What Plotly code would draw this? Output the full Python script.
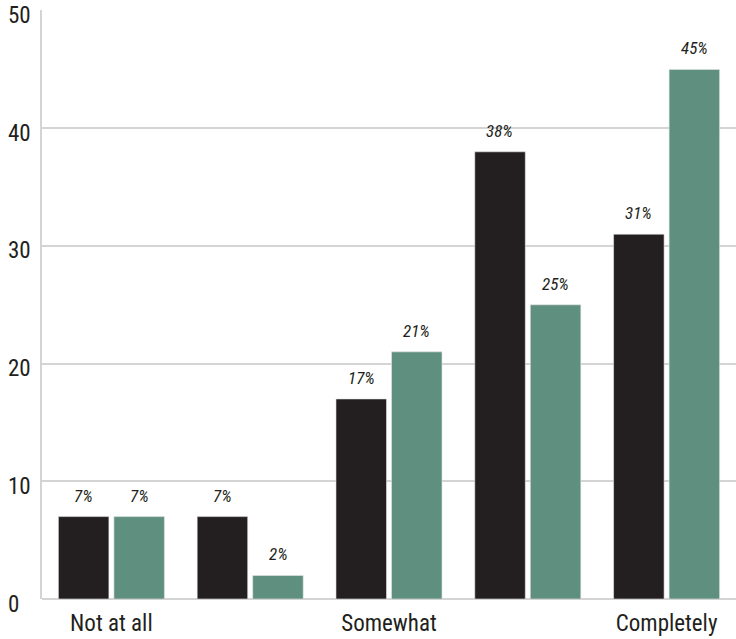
import plotly.graph_objects as go

# Response categories (only every other level is labelled on the axis)
categories = ["Not at all", "level 2", "Somewhat", "level 4", "Completely"]
tick_labels = ["Not at all", "", "Somewhat", "", "Completely"]

# Percent of respondents in each group
group_a = [7, 7, 17, 38, 31]
group_b = [7, 2, 21, 25, 45]

y_ticks = [0, 10, 20, 30, 40, 50]

DARK = "#231f20"
GREEN = "#5f8f7f"
GRID = "#d4d4d4"
FONT = "Liberation Sans Narrow, Roboto Condensed, Open Sans, sans-serif"

fig = go.Figure()
for name, vals, color in [("A", group_a, DARK), ("B", group_b, GREEN)]:
    fig.add_trace(go.Bar(
        x=categories, y=vals, name=name,
        marker=dict(color=color, line=dict(color="#e6e6e6", width=0.6)),
        cliponaxis=False,
    ))

# Value labels above each bar; the two bars of a group sit half a slot
# left and right of the category centre
half_slot = 27.8
for vals, dx in [(group_a, -half_slot), (group_b, half_slot)]:
    for cat, v in zip(categories, vals):
        fig.add_annotation(
            x=cat, y=v, text=f"{v}%", showarrow=False,
            xanchor="center", yanchor="bottom", xshift=dx, yshift=9,
            font=dict(family=FONT, size=17, color=DARK, style="italic"),
        )

# Y tick labels, left aligned against the edge of the figure and sitting
# just below their grid lines
for t in y_ticks:
    fig.add_annotation(
        x=0, xref="paper", y=t, yref="y", text=str(t), showarrow=False,
        xanchor="left", yanchor="middle", xshift=-36, yshift=-5,
        font=dict(family=FONT, size=23, color=DARK),
    )

fig.update_layout(
    width=736, height=639,
    margin=dict(l=42, r=0, t=10, b=40),
    paper_bgcolor="white", plot_bgcolor="white",
    barmode="group", bargap=0.2, bargroupgap=0.09,
    showlegend=False,
    font=dict(family=FONT, size=23, color=DARK),
    xaxis=dict(
        tickmode="array", tickvals=categories, ticktext=tick_labels,
        showgrid=False, showline=False, ticks="",
        tickfont=dict(size=23), ticklabelstandoff=8,
    ),
    yaxis=dict(
        range=[0, 50.05], tickvals=y_ticks, showticklabels=False,
        showgrid=True, gridcolor=GRID, gridwidth=2,
        showline=True, linecolor=GRID, linewidth=2,
        zeroline=True, zerolinecolor=GRID, zerolinewidth=2,
        ticks="",
    ),
)

fig.write_html("out.html")
